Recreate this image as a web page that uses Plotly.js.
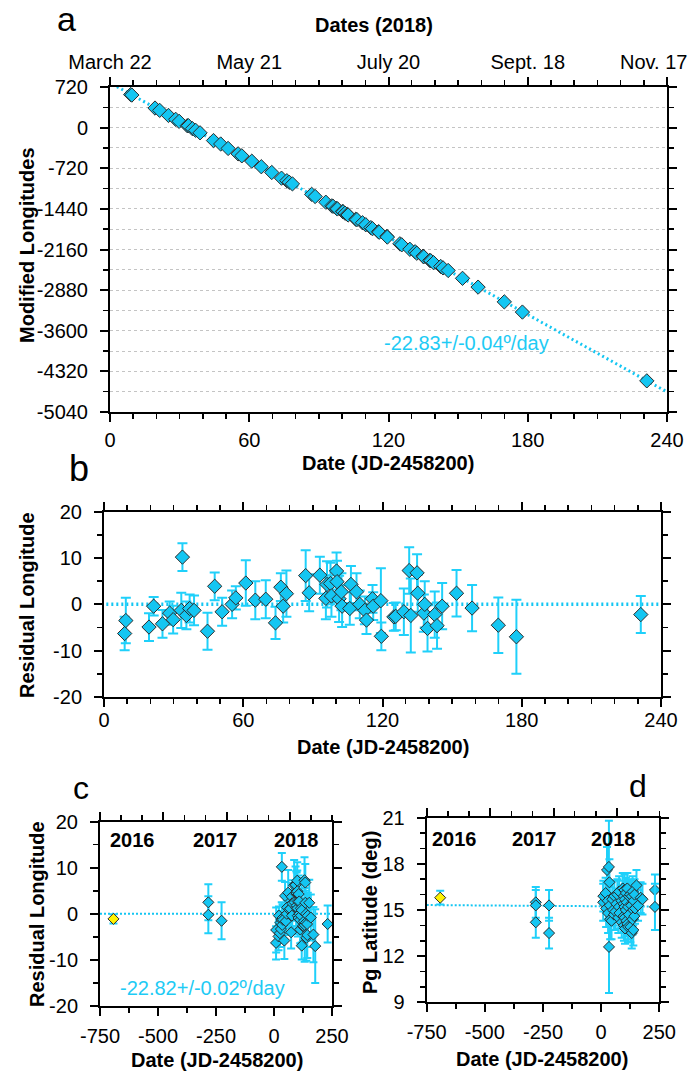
<!DOCTYPE html>
<html>
<head>
<meta charset="utf-8">
<script src="https://cdn.plot.ly/plotly-3.0.1.min.js"></script>
<style>
html,body{margin:0;padding:0;background:#fff;}
#chart{width:691px;height:1074px;}
</style>
</head>
<body>
<div id="chart"></div>
<script>
// ---------- DATA ----------
// 2018 observations: day (JD-2458200)
const days2018 = [8.9, 9.4, 19.4, 21.4, 25.2, 28.3, 29.8, 33.3, 33.8, 35.5, 36.9, 38.8, 44.6, 47.7, 50.9, 55.2, 56.8, 61.1, 65.2, 69.7, 73.9, 76.2, 77.2, 78.6, 86.9, 88.4, 93.0, 95.6, 96.1, 97.6, 98.0, 100.2, 100.4, 101.3, 102.3, 102.6, 105.9, 106.4, 108.8, 110.2, 112.4, 113.1, 115.7, 116.0, 119.3, 119.5, 124.9, 125.7, 129.2, 131.5, 132.2, 134.9, 135.2, 137.8, 138.2, 139.4, 142.5, 143.5, 145.7, 151.9, 158.6, 169.9, 177.7, 231.3];
// Modified longitudes (deg)
const modLon = [586, 577, 347, 306, 216, 147, 111, 34, 34, -18, -48, -92, -229, -290, -369, -465, -500, -595, -693, -795, -896, -941, -968, -997, -1183, -1221, -1322, -1386, -1395, -1429, -1441, -1485, -1492, -1517, -1538, -1548, -1624, -1630, -1686, -1721, -1772, -1791, -1845, -1854, -1928, -1940, -2059, -2077, -2156, -2200, -2226, -2278, -2289, -2353, -2360, -2393, -2461, -2486, -2532, -2671, -2827, -3088, -3269, -4488];
// Residual longitudes (deg) and errors
const resid2018 = [-6.3, -3.5, -4.9, -0.4, -4.2, -1.9, -3.3, -1.3, 10.2, -2.4, -0.9, -1.3, -5.8, 3.9, -1.6, 0.0, 1.4, 4.6, 0.9, 1.1, -4.0, 3.7, -0.4, 2.3, 6.2, 2.5, 6.3, 1.3, 4.3, 4.5, 1.8, 7.2, 4.9, 1.2, 2.7, -0.4, -0.9, 4.3, 2.7, 0.0, -1.3, -3.4, 1.2, -0.4, 0.8, -6.9, -2.7, -2.6, -1.6, 7.3, -2.4, 6.8, 2.4, -1.9, 0.0, -5.2, -2.2, -4.6, -0.4, 2.4, -0.8, -4.5, -7.0, -2.2];
const residErr2018 = [3.6, 4.9, 3.0, 2.0, 3.0, 2.5, 3.0, 3.8, 3.0, 3.0, 3.0, 3.2, 4.0, 3.0, 3.0, 3.0, 2.5, 4.9, 4.1, 4.1, 3.5, 3.0, 3.5, 5.0, 5.5, 4.0, 4.0, 4.5, 5.0, 4.5, 4.5, 4.0, 4.5, 5.0, 4.0, 4.5, 3.5, 4.0, 4.0, 3.0, 3.0, 3.0, 3.0, 3.0, 7.0, 3.0, 3.0, 3.0, 5.0, 5.0, 8.0, 4.0, 4.0, 4.0, 5.0, 5.0, 5.0, 5.0, 5.0, 5.0, 5.0, 6.0, 8.0, 4.0];
// Pg latitudes (deg) and errors
const lat2018 = [15.5, 15.9, 16.1, 15.1, 17.6, 15.6, 14.8, 17.8, 12.6, 16.8, 15.3, 14.4, 14.3, 15.7, 15.0, 14.7, 15.9, 14.9, 15.4, 16.0, 14.5, 15.2, 16.2, 14.8, 15.6, 14.2, 16.4, 15.4, 14.6, 15.9, 14.0, 15.2, 16.3, 14.5, 15.7, 13.8, 15.0, 16.1, 14.3, 15.5, 16.4, 14.1, 15.2, 13.9, 15.9, 14.7, 16.0, 13.9, 15.3, 13.5, 15.9, 14.4, 16.2, 15.0, 13.7, 15.6, 14.6, 16.0, 15.1, 16.6, 15.3, 15.8, 15.7, 16.3];
const latErr2018 = [1.2, 1.0, 1.0, 1.2, 1.5, 1.2, 1.3, 3.0, 3.0, 1.5, 1.2, 1.3, 1.2, 1.2, 1.0, 1.0, 1.0, 1.2, 1.0, 1.0, 1.0, 1.0, 1.0, 1.0, 1.0, 1.0, 1.0, 1.0, 1.0, 1.0, 1.0, 1.0, 1.0, 1.0, 1.0, 1.0, 1.0, 1.0, 1.0, 1.0, 1.0, 1.0, 1.0, 1.0, 1.0, 1.0, 1.0, 1.0, 1.0, 1.0, 1.0, 1.0, 1.0, 1.0, 1.0, 1.0, 1.0, 1.0, 1.0, 1.0, 1.0, 1.0, 1.0, 1.0];
const latExtraDays = [231.3];
const latExtra = [15.2];
const latExtraErr = [1.5];
// Earlier years
const days2016 = [-692];
const resid2016 = [-1.1];
const residErr2016 = [1.0];
const lat2016 = [15.8];
const latErr2016 = [0.45];
const days2017c = [-283, -283, -226];
const resid2017 = [2.5, -0.2, -1.5];
const residErr2017 = [3.9, 4.0, 4.0];
const days2017d = [-281, -281, -281, -224, -224];
const lat2017 = [15.5, 15.3, 14.2, 15.3, 13.5];
const latErr2017 = [1.0, 1.0, 1.0, 1.0, 1.0];
// Fit lines
const fitDays = [3, 240];
const fitLon = [727, -4684];
const zeroDays = [1, 240];
const zeroResid = [0, 0];
const fitAllDays = [-750, 250];
const fitAllResid = [0, 0];
const fitAllLat = [15.32, 15.22];
// Tick labels
const dateTickDays = [0, 60, 120, 180, 240];
const dateTickLabels = ['March 22', 'May 21', 'July 20', 'Sept. 18', 'Nov. 17'];
const lonTickVals = [720, 0, -720, -1440, -2160, -2880, -3600, -4320, -5040];
const lonTickText = ['720', '0', '-720', '-1440', '-2160', '-2880', '-3600', '-4320', '-5040'];
const residTickVals = [20, 10, 0, -10, -20];
const residTickText = ['20', '10', '0', '-10', '-20'];
const longDayTickVals = [-750, -500, -250, 0, 250];
const longDayTickText = ['-750', '-500', '-250', '0', '250'];

// ---------- STYLE ----------
const W = 691, H = 1074;
const px = v => v / W, py = v => 1 - v / H;
const FONT = 'Liberation Sans, Arial, sans-serif';
const CY = '#14C6F2', BAR = '#1FD0FA', TXT = '#1ECBF5', EDGE = '#2b2b2b';
const mk = (size, color) => ({symbol: 'diamond', size: size, color: color || CY, line: {color: EDGE, width: 1}});
const eb = (arr, w) => ({type: 'data', array: arr, visible: true, color: BAR, thickness: 2, width: w});
// the last top label sits against the right edge of the figure (drawn as an annotation below)
const lastIdx = dateTickLabels.length - 1;
const topLabels = dateTickLabels.map((t, i) => i === lastIdx ? '' : t);

const traces = [
  // panel a
  {x: fitDays, y: fitLon, xaxis: 'x', yaxis: 'y', mode: 'lines', line: {color: CY, width: 3, dash: '2px,3px'}, hoverinfo: 'skip'},
  {x: days2018, y: modLon, xaxis: 'x', yaxis: 'y', mode: 'markers', marker: mk(11)},
  {x: fitDays, y: fitLon, xaxis: 'x2', yaxis: 'y', mode: 'lines', line: {width: 0}, opacity: 0, hoverinfo: 'skip'},
  // panel b
  {x: zeroDays, y: zeroResid, xaxis: 'x3', yaxis: 'y3', mode: 'lines', line: {color: CY, width: 3.5, dash: '2px,3px'}, hoverinfo: 'skip'},
  {x: days2018, y: resid2018, xaxis: 'x3', yaxis: 'y3', mode: 'markers', marker: mk(11), error_y: eb(residErr2018, 5)},
  // panel c
  {x: fitAllDays, y: fitAllResid, xaxis: 'x4', yaxis: 'y4', mode: 'lines', line: {color: CY, width: 2, dash: '2px,2px'}, hoverinfo: 'skip'},
  {x: days2017c, y: resid2017, xaxis: 'x4', yaxis: 'y4', mode: 'markers', marker: mk(8.5), error_y: eb(residErr2017, 4)},
  {x: days2018, y: resid2018, xaxis: 'x4', yaxis: 'y4', mode: 'markers', marker: mk(8.5), error_y: eb(residErr2018, 4)},
  {x: days2016, y: resid2016, xaxis: 'x4', yaxis: 'y4', mode: 'markers', marker: mk(8.5, '#FFF200'), error_y: eb(residErr2016, 4)},
  {x: fitAllDays, y: fitAllResid, xaxis: 'x5', yaxis: 'y4', mode: 'lines', line: {width: 0}, opacity: 0, hoverinfo: 'skip'},
  // panel d
  {x: fitAllDays, y: fitAllLat, xaxis: 'x6', yaxis: 'y6', mode: 'lines', line: {color: CY, width: 2, dash: '2px,2px'}, hoverinfo: 'skip'},
  {x: days2017d, y: lat2017, xaxis: 'x6', yaxis: 'y6', mode: 'markers', marker: mk(8.5), error_y: eb(latErr2017, 4)},
  {x: days2018, y: lat2018, xaxis: 'x6', yaxis: 'y6', mode: 'markers', marker: mk(8.5), error_y: eb(latErr2018, 4)},
  {x: latExtraDays, y: latExtra, xaxis: 'x6', yaxis: 'y6', mode: 'markers', marker: mk(8.5), error_y: eb(latExtraErr, 4)},
  {x: days2016, y: lat2016, xaxis: 'x6', yaxis: 'y6', mode: 'markers', marker: mk(8.5, '#FFF200'), error_y: eb(latErr2016, 4)},
  {x: fitAllDays, y: fitAllLat, xaxis: 'x7', yaxis: 'y6', mode: 'lines', line: {width: 0}, opacity: 0, hoverinfo: 'skip'}
];

const base = {
  showline: true, linecolor: '#000', linewidth: 2,
  ticks: 'outside', tickcolor: '#000', tickwidth: 2, ticklen: 8,
  showgrid: false, zeroline: false, tickfont: {family: FONT, size: 20, color: '#000'},
  fixedrange: true, ticklabeloverflow: 'allow'
};
const minorX = (d, t0) => ({tick0: t0 || 0, dtick: d, ticks: 'outside', ticklen: 5, tickwidth: 1.5, tickcolor: '#000', showgrid: false});
const ax = o => Object.assign({}, base, o);
const GRID = '#c4c4c4';

const layout = {
  width: W, height: H,
  margin: {l: 0, r: 0, t: 0, b: 0},
  paper_bgcolor: '#fff', plot_bgcolor: 'rgba(0,0,0,0)',
  showlegend: false,
  font: {family: FONT, size: 20, color: '#000'},
  // panel a
  xaxis: ax({domain: [px(110), px(667)], anchor: 'y', range: [0, 240], tick0: 0, dtick: 60, minor: minorX(10), ticklabelstandoff: 1}),
  xaxis2: ax({overlaying: 'x', side: 'top', anchor: 'y', range: [0, 240], tickmode: 'array', tickvals: dateTickDays, ticktext: topLabels, minor: minorX(10), ticklabelstandoff: 0}),
  yaxis: ax({domain: [py(412), py(87)], anchor: 'x', range: [-5040, 720], tickmode: 'array', tickvals: lonTickVals, ticktext: lonTickText, mirror: 'ticks',
    showgrid: true, gridcolor: GRID, gridwidth: 1, griddash: 'dot', ticklabelstandoff: 8,
    minor: {tick0: 0, dtick: 360, ticks: 'outside', ticklen: 5, tickwidth: 1.5, tickcolor: '#000', showgrid: true, gridcolor: GRID, gridwidth: 1, griddash: 'dot'}}),
  // panel b
  xaxis3: ax({domain: [px(104), px(661)], anchor: 'y3', range: [0, 240], tick0: 0, dtick: 60, mirror: 'ticks', minor: minorX(10), ticklabelstandoff: -4}),
  yaxis3: ax({domain: [py(697), py(511.7)], anchor: 'x3', range: [-20, 20], tickmode: 'array', tickvals: residTickVals, ticktext: residTickText, mirror: 'ticks', minor: minorX(5), ticklabelstandoff: 8}),
  // panel c
  xaxis4: ax({domain: [px(100), px(332)], anchor: 'y4', range: [-750, 250], tickmode: 'array', tickvals: longDayTickVals, ticktext: longDayTickText, minor: minorX(125, -750), ticklabelstandoff: 3}),
  xaxis5: ax({overlaying: 'x4', side: 'top', anchor: 'y4', range: [-750, 250], tick0: -750, dtick: 272.7, showticklabels: false, minor: minorX(90.9, -750)}),
  yaxis4: ax({domain: [py(1006), py(821.7)], anchor: 'x4', range: [-20, 20], tickmode: 'array', tickvals: residTickVals, ticktext: residTickText, mirror: 'ticks', minor: minorX(5), ticklabelstandoff: 8}),
  // panel d
  xaxis6: ax({domain: [px(426.7), px(659.3)], anchor: 'y6', range: [-750, 250], tickmode: 'array', tickvals: longDayTickVals, ticktext: longDayTickText, minor: minorX(125, -750), ticklabelstandoff: 3}),
  xaxis7: ax({overlaying: 'x6', side: 'top', anchor: 'y6', range: [-750, 250], tick0: -750, dtick: 272.7, showticklabels: false, minor: minorX(90.9, -750)}),
  yaxis6: ax({domain: [py(1002.3), py(817.7)], anchor: 'x6', range: [9, 21], tick0: 0, dtick: 3, mirror: 'ticks', minor: minorX(1), ticklabelstandoff: 8}),
  annotations: []
};

const ann = (text, x, y, o) => Object.assign({text: text, x: px(x), y: py(y), xref: 'paper', yref: 'paper', xanchor: 'center', yanchor: 'middle', showarrow: false, font: {family: FONT, size: 20, color: '#000'}}, o || {});
const bold = t => '<b>' + t + '</b>';
layout.annotations.push(
  ann(dateTickLabels[lastIdx], 689, 62, {xanchor: 'right'}),
  ann('a', 66, 19, {font: {family: FONT, size: 34, color: '#000'}}),
  ann('b', 79, 468, {font: {family: FONT, size: 36, color: '#000'}}),
  ann('c', 81, 788, {font: {family: FONT, size: 32, color: '#000'}}),
  ann('d', 638, 786, {font: {family: FONT, size: 32, color: '#000'}}),
  ann(bold('Dates (2018)'), 374, 25),
  ann(bold('Date (JD-2458200)'), 388, 463),
  ann(bold('Modified Longitudes'), 27, 245, {textangle: -90}),
  ann(bold('Date (JD-2458200)'), 383, 747),
  ann(bold('Residual Longitude'), 27, 605, {textangle: -90}),
  ann(bold('Date (JD-2458200)'), 217, 1060),
  ann(bold('Residual Longitude'), 37, 914, {textangle: -90}),
  ann(bold('Date (JD-2458200)'), 542, 1059),
  ann(bold('Pg Latitude (deg)'), 370, 913, {textangle: -90}),
  ann(bold('2016'), 132, 840), ann(bold('2017'), 215, 840), ann(bold('2018'), 296, 840),
  ann(bold('2016'), 454, 839), ann(bold('2017'), 534, 839), ann(bold('2018'), 613, 839),
  ann('-22.83+/-0.04º/day', 467, 343, {font: {family: FONT, size: 20, color: TXT}}),
  ann('-22.82+/-0.02º/day', 202, 988, {font: {family: FONT, size: 20, color: TXT}})
);

Plotly.newPlot('chart', traces, layout, {staticPlot: true, displayModeBar: false});
</script>
</body>
</html>
